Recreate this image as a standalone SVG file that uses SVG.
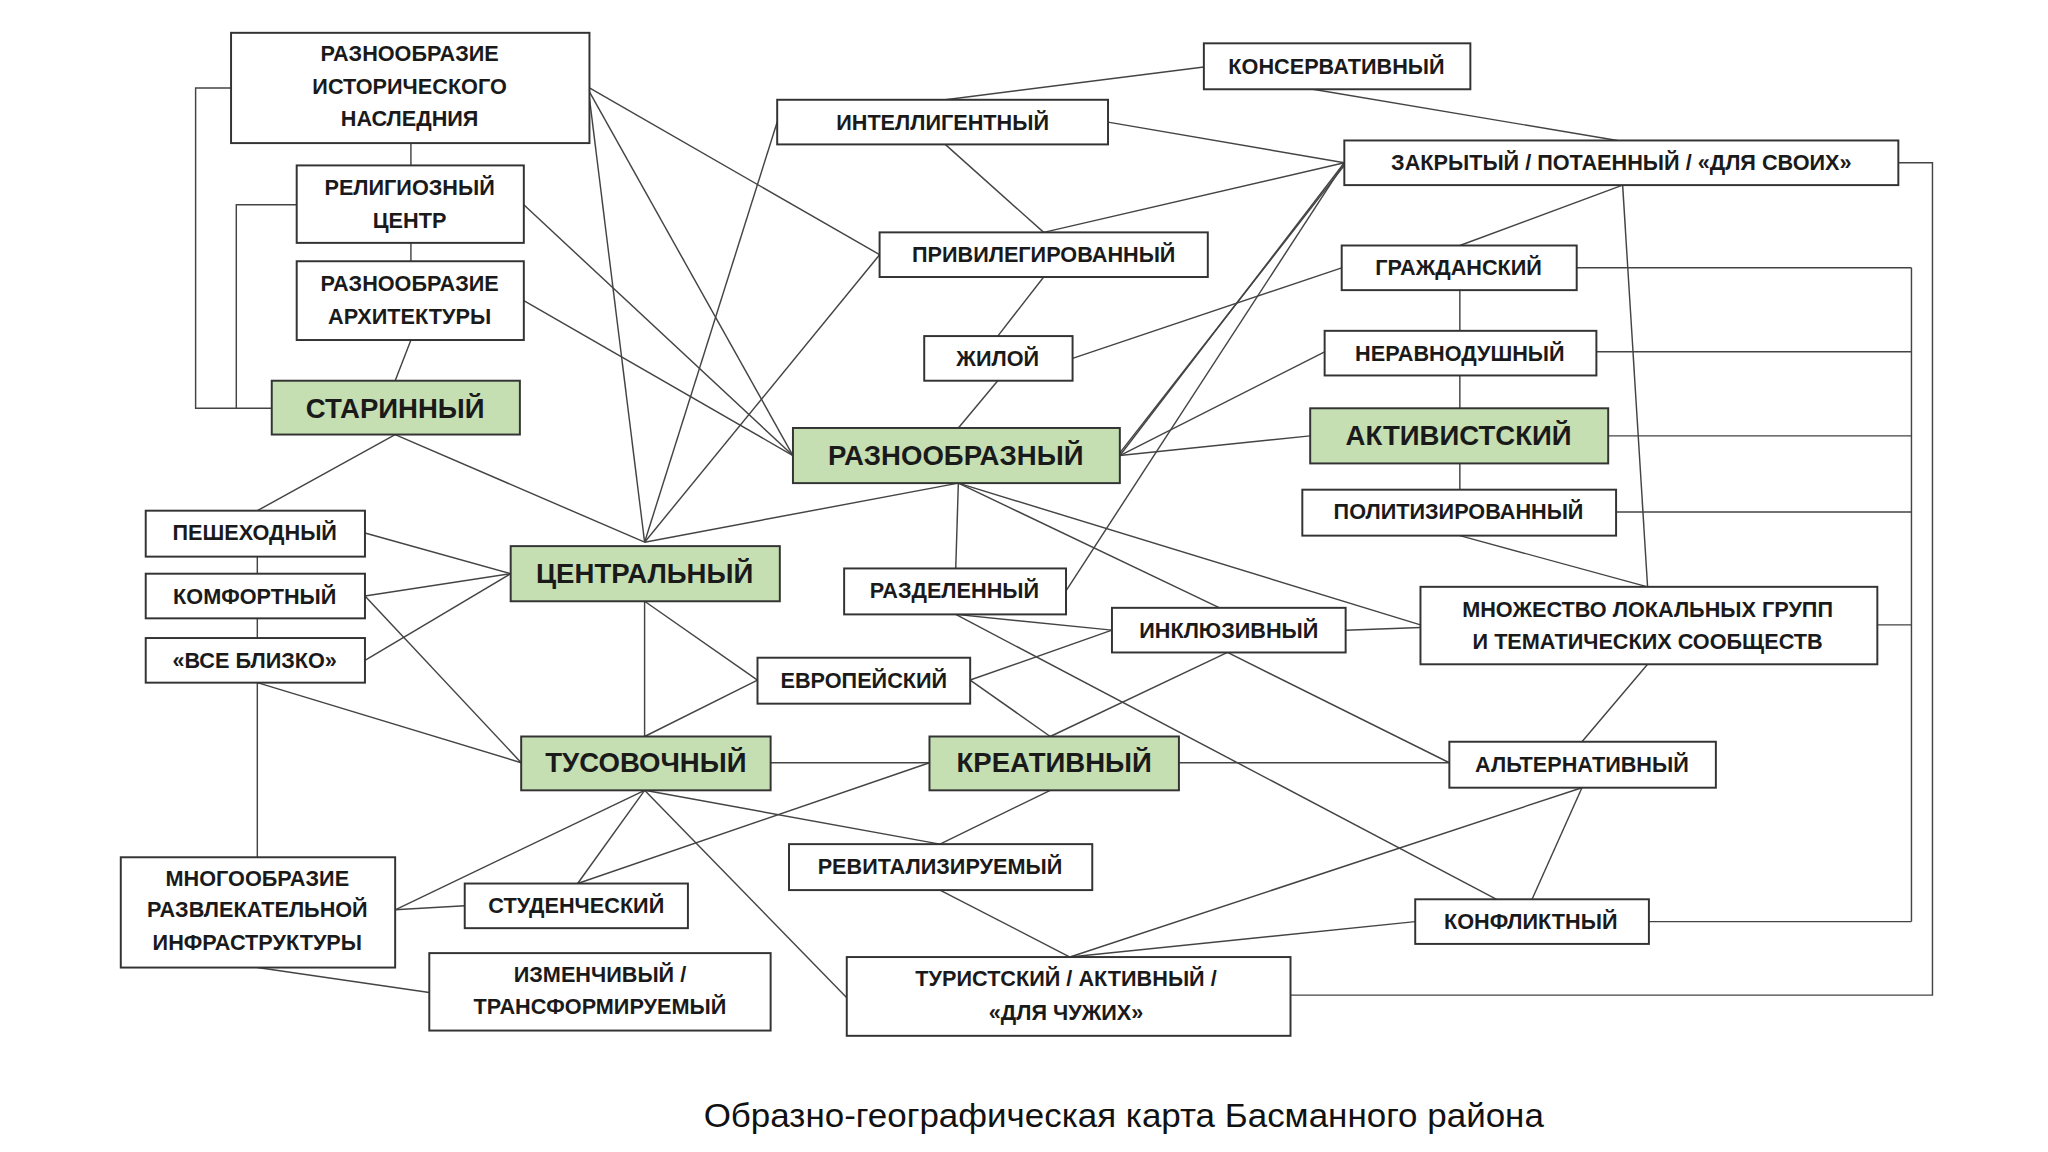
<svg xmlns="http://www.w3.org/2000/svg" width="2048" height="1152" viewBox="0 0 2048 1152">
<style>
.b{fill:#fff;stroke:#333;stroke-width:1.5}
.g{fill:#c5dfb3;stroke:#333;stroke-width:1.5}
.t{font-family:"Liberation Sans",Arial,sans-serif;font-weight:bold;font-size:16.5px;fill:#1a1a1a;text-anchor:middle;dominant-baseline:central}
.tg{font-family:"Liberation Sans",Arial,sans-serif;font-weight:bold;font-size:21px;fill:#1a1a1a;text-anchor:middle;dominant-baseline:central}
#edges path,#edges line{stroke:#444;stroke-width:1.1;fill:none}
</style>
<rect width="2048" height="1152" fill="#fff"/>
<g transform="scale(1.31282)">
<g id="edges">
<path d="M176,67H149V311H207M226,156H180V311"/>
<line x1="313" y1="109" x2="313" y2="126"/><line x1="313" y1="185" x2="313" y2="199"/><line x1="313" y1="259" x2="301" y2="290"/>
<line x1="449" y1="67" x2="670" y2="194"/><line x1="449" y1="70" x2="604" y2="347"/><line x1="449" y1="75" x2="491" y2="413"/>
<line x1="399" y1="156" x2="604" y2="347"/><line x1="399" y1="229" x2="604" y2="347"/>
<line x1="592" y1="93" x2="491" y2="413"/><line x1="670" y1="194" x2="491" y2="413"/>
<line x1="301" y1="331" x2="196" y2="389"/><line x1="301" y1="331" x2="491" y2="413"/>
<line x1="491" y1="413" x2="730" y2="368"/>
<line x1="278" y1="406" x2="389" y2="437"/><line x1="278" y1="454" x2="389" y2="437"/><line x1="278" y1="503" x2="389" y2="437"/>
<line x1="278" y1="454" x2="397" y2="581"/><line x1="196" y1="520" x2="397" y2="581"/>
<line x1="196" y1="424" x2="196" y2="437"/><line x1="196" y1="471" x2="196" y2="486"/><line x1="196" y1="520" x2="196" y2="653"/>
<line x1="491" y1="458" x2="491" y2="561"/><line x1="491" y1="458" x2="577" y2="518"/><line x1="491" y1="561" x2="577" y2="518"/>
<line x1="587" y1="581" x2="708" y2="581"/>
<line x1="491" y1="602" x2="440" y2="673"/><line x1="491" y1="602" x2="301" y2="693"/><line x1="491" y1="602" x2="716" y2="643"/><line x1="491" y1="602" x2="645" y2="760"/>
<line x1="708" y1="581" x2="440" y2="673"/><line x1="301" y1="693" x2="354" y2="690"/><line x1="196" y1="737" x2="327" y2="756"/>
<line x1="800" y1="602" x2="716" y2="643"/><line x1="716" y1="678" x2="815" y2="729"/>
<line x1="815" y1="729" x2="1205" y2="600"/><line x1="815" y1="729" x2="1078" y2="702"/>
<path d="M983,758H1472V124H1446"/>
<path d="M1201,204H1456M1216,268H1456M1225,332H1456M1231,390H1456M1430,476H1456M1256,702H1456M1456,204V702"/>
<line x1="1112" y1="221" x2="1112" y2="252"/><line x1="1112" y1="286" x2="1112" y2="311"/><line x1="1112" y1="353" x2="1112" y2="373"/>
<line x1="1112" y1="408" x2="1255" y2="447"/><line x1="1236" y1="141" x2="1255" y2="447"/><line x1="1236" y1="141" x2="1112" y2="187"/>
<line x1="917" y1="51" x2="720" y2="76"/><line x1="1000" y1="68" x2="1232" y2="107"/>
<line x1="844" y1="93" x2="1024" y2="124"/><line x1="720" y1="110" x2="795" y2="177"/><line x1="1024" y1="124" x2="795" y2="177"/>
<line x1="795" y1="211" x2="760" y2="256"/><line x1="760" y1="290" x2="730" y2="326"/><line x1="817" y1="273" x2="1022" y2="204"/>
<line x1="853" y1="347" x2="1024" y2="124"/><line x1="853" y1="345" x2="1024" y2="126"/><line x1="812" y1="450" x2="1024" y2="124"/>
<line x1="853" y1="347" x2="1009" y2="268"/><line x1="853" y1="347" x2="998" y2="332"/>
<line x1="730" y1="368" x2="728" y2="433"/><line x1="730" y1="368" x2="1082" y2="476"/><line x1="730" y1="368" x2="929" y2="463"/>
<line x1="728" y1="468" x2="847" y2="480"/><line x1="728" y1="468" x2="1140" y2="685"/>
<line x1="739" y1="518" x2="847" y2="480"/><line x1="739" y1="518" x2="800" y2="561"/>
<line x1="935" y1="497" x2="800" y2="561"/><line x1="935" y1="497" x2="1104" y2="581"/><line x1="1025" y1="480" x2="1082" y2="478"/>
<line x1="898" y1="581" x2="1104" y2="581"/><line x1="1255" y1="506" x2="1205" y2="565"/><line x1="1205" y1="600" x2="1167" y2="685"/>
</g>
<g id="n1"><rect class="b" x="176" y="25" width="273" height="84"/><text class="t" x="312" y="41">РАЗНООБРАЗИЕ</text><text class="t" x="312" y="66">ИСТОРИЧЕСКОГО</text><text class="t" x="312" y="90">НАСЛЕДНИЯ</text></g>
<g id="n2"><rect class="b" x="226" y="126" width="173" height="59"/><text class="t" x="312" y="143">РЕЛИГИОЗНЫЙ</text><text class="t" x="312" y="168">ЦЕНТР</text></g>
<g id="n3"><rect class="b" x="226" y="199" width="173" height="60"/><text class="t" x="312" y="216">РАЗНООБРАЗИЕ</text><text class="t" x="312" y="241">АРХИТЕКТУРЫ</text></g>
<g id="n4"><rect class="g" x="207" y="290" width="189" height="41"/><text class="tg" x="301" y="311">СТАРИННЫЙ</text></g>
<g id="n5"><rect class="b" x="111" y="389" width="167" height="35"/><text class="t" x="194" y="406">ПЕШЕХОДНЫЙ</text></g>
<g id="n6"><rect class="b" x="111" y="437" width="167" height="34"/><text class="t" x="194" y="454">КОМФОРТНЫЙ</text></g>
<g id="n7"><rect class="b" x="111" y="486" width="167" height="34"/><text class="t" x="194" y="503">«ВСЕ БЛИЗКО»</text></g>
<g id="n8"><rect class="g" x="389" y="416" width="205" height="42"/><text class="tg" x="491" y="437">ЦЕНТРАЛЬНЫЙ</text></g>
<g id="n9"><rect class="g" x="397" y="561" width="190" height="41"/><text class="tg" x="492" y="581">ТУСОВОЧНЫЙ</text></g>
<g id="n10"><rect class="b" x="92" y="653" width="209" height="84"/><text class="t" x="196" y="669">МНОГООБРАЗИЕ</text><text class="t" x="196" y="693">РАЗВЛЕКАТЕЛЬНОЙ</text><text class="t" x="196" y="718">ИНФРАСТРУКТУРЫ</text></g>
<g id="n11"><rect class="b" x="354" y="673" width="170" height="34"/><text class="t" x="439" y="690">СТУДЕНЧЕСКИЙ</text></g>
<g id="n12"><rect class="b" x="327" y="726" width="260" height="59"/><text class="t" x="457" y="742">ИЗМЕНЧИВЫЙ /</text><text class="t" x="457" y="767">ТРАНСФОРМИРУЕМЫЙ</text></g>
<g id="n13"><rect class="b" x="577" y="501" width="162" height="35"/><text class="t" x="658" y="518">ЕВРОПЕЙСКИЙ</text></g>
<g id="n14"><rect class="g" x="708" y="561" width="190" height="41"/><text class="tg" x="803" y="581">КРЕАТИВНЫЙ</text></g>
<g id="n15"><rect class="b" x="601" y="643" width="231" height="35"/><text class="t" x="716" y="660">РЕВИТАЛИЗИРУЕМЫЙ</text></g>
<g id="n16"><rect class="b" x="645" y="729" width="338" height="60"/><text class="t" x="812" y="745">ТУРИСТСКИЙ / АКТИВНЫЙ /</text><text class="t" x="812" y="771">«ДЛЯ ЧУЖИХ»</text></g>
<g id="n17"><rect class="b" x="643" y="433" width="169" height="35"/><text class="t" x="727" y="450">РАЗДЕЛЕННЫЙ</text></g>
<g id="n18"><rect class="b" x="847" y="463" width="178" height="34"/><text class="t" x="936" y="480">ИНКЛЮЗИВНЫЙ</text></g>
<g id="n19"><rect class="g" x="604" y="326" width="249" height="42"/><text class="tg" x="728" y="347">РАЗНООБРАЗНЫЙ</text></g>
<g id="n20"><rect class="b" x="704" y="256" width="113" height="34"/><text class="t" x="760" y="273">ЖИЛОЙ</text></g>
<g id="n21"><rect class="b" x="670" y="177" width="250" height="34"/><text class="t" x="795" y="194">ПРИВИЛЕГИРОВАННЫЙ</text></g>
<g id="n22"><rect class="b" x="592" y="76" width="252" height="34"/><text class="t" x="718" y="93">ИНТЕЛЛИГЕНТНЫЙ</text></g>
<g id="n23"><rect class="b" x="917" y="33" width="203" height="35"/><text class="t" x="1018" y="51">КОНСЕРВАТИВНЫЙ</text></g>
<g id="n24"><rect class="b" x="1024" y="107" width="422" height="34"/><text class="t" x="1235" y="124">ЗАКРЫТЫЙ / ПОТАЕННЫЙ / «ДЛЯ СВОИХ»</text></g>
<g id="n25"><rect class="b" x="1022" y="187" width="179" height="34"/><text class="t" x="1111" y="204">ГРАЖДАНСКИЙ</text></g>
<g id="n26"><rect class="b" x="1009" y="252" width="207" height="34"/><text class="t" x="1112" y="269">НЕРАВНОДУШНЫЙ</text></g>
<g id="n27"><rect class="g" x="998" y="311" width="227" height="42"/><text class="tg" x="1111" y="332">АКТИВИСТСКИЙ</text></g>
<g id="n28"><rect class="b" x="992" y="373" width="239" height="35"/><text class="t" x="1111" y="390">ПОЛИТИЗИРОВАННЫЙ</text></g>
<g id="n29"><rect class="b" x="1082" y="447" width="348" height="59"/><text class="t" x="1255" y="464">МНОЖЕСТВО ЛОКАЛЬНЫХ ГРУПП</text><text class="t" x="1255" y="489">И ТЕМАТИЧЕСКИХ СООБЩЕСТВ</text></g>
<g id="n30"><rect class="b" x="1104" y="565" width="203" height="35"/><text class="t" x="1205" y="582">АЛЬТЕРНАТИВНЫЙ</text></g>
<g id="n31"><rect class="b" x="1078" y="685" width="178" height="34"/><text class="t" x="1166" y="702">КОНФЛИКТНЫЙ</text></g>
<text x="856" y="849" style="font-family:'Liberation Sans',Arial,sans-serif;font-size:26px;fill:#111;text-anchor:middle;dominant-baseline:central" textLength="640" lengthAdjust="spacingAndGlyphs">Образно-географическая карта Басманного района</text>
</g>
</svg>
